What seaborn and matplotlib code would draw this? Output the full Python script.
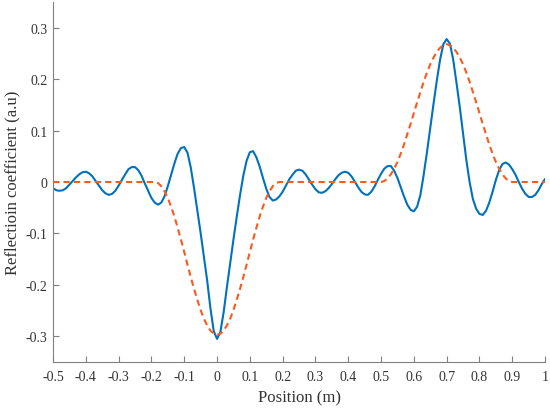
import numpy as np
import matplotlib
matplotlib.use("Agg")
import matplotlib.pyplot as plt
from matplotlib.ticker import FormatStrFormatter
import seaborn as sns

# sampled positions (m)
position = np.round(np.linspace(-0.5, 1.0, 151), 2)

# reconstructed reflection coefficient (solid blue)
reflection = [
    -0.012, -0.016, -0.017, -0.016, -0.012, -0.005, 0.002, 0.009, 0.015, 0.019,
    0.020, 0.017, 0.011, 0.002, -0.007, -0.016, -0.022, -0.025, -0.023, -0.017,
    -0.007, 0.004, 0.015, 0.025, 0.029, 0.029, 0.023, 0.012, -0.003, -0.017,
    -0.031, -0.040, -0.044, -0.040, -0.028, -0.008, 0.014, 0.036, 0.055, 0.066,
    0.068, 0.057, 0.028, -0.012, -0.055, -0.099, -0.145, -0.192, -0.246, -0.290,
    -0.305, -0.292, -0.254, -0.205, -0.158, -0.112, -0.068, -0.026, 0.012, 0.041,
    0.058, 0.060, 0.048, 0.030, 0.008, -0.013, -0.029, -0.036, -0.034, -0.028,
    -0.019, -0.007, 0.005, 0.014, 0.022, 0.024, 0.022, 0.015, 0.005, -0.005,
    -0.014, -0.020, -0.021, -0.018, -0.012, -0.004, 0.005, 0.013, 0.018, 0.020,
    0.018, 0.011, 0.001, -0.010, -0.019, -0.024, -0.025, -0.019, -0.009, 0.004,
    0.016, 0.026, 0.031, 0.031, 0.022, 0.008, -0.010, -0.028, -0.044, -0.054,
    -0.057, -0.048, -0.025, 0.014, 0.058, 0.105, 0.152, 0.197, 0.238, 0.268,
    0.278, 0.269, 0.238, 0.193, 0.146, 0.095, 0.043, 0.000, -0.033, -0.052,
    -0.062, -0.064, -0.056, -0.040, -0.019, 0.004, 0.023, 0.035, 0.038, 0.034,
    0.025, 0.014, 0.000, -0.013, -0.023, -0.029, -0.029, -0.025, -0.016, -0.004,
    0.006,
]

# true profile (dashed orange): flat, a dip at 0 and a bump at 0.7
dip_pos = np.round(np.linspace(-0.19, 0.19, 39), 2)
dip_val = [
    0.0, -0.002, -0.008, -0.018, -0.031, -0.048, -0.067, -0.089, -0.112, -0.136,
    -0.161, -0.185, -0.208, -0.229, -0.249, -0.266, -0.279, -0.289, -0.295, -0.297,
    -0.295, -0.289, -0.279, -0.266, -0.249, -0.229, -0.208, -0.185, -0.161, -0.136,
    -0.112, -0.089, -0.067, -0.048, -0.031, -0.018, -0.008, -0.002, 0.0,
]
bump_pos = np.round(np.linspace(0.50, 0.90, 41), 2)
bump_val = [
    0.0, 0.002, 0.007, 0.015, 0.026, 0.039, 0.055, 0.073, 0.093, 0.113,
    0.134, 0.155, 0.175, 0.195, 0.213, 0.229, 0.242, 0.253, 0.261, 0.266,
    0.268,
    0.266, 0.261, 0.253, 0.242, 0.229, 0.213, 0.195, 0.175, 0.155, 0.134,
    0.113, 0.093, 0.073, 0.055, 0.039, 0.026, 0.015, 0.007, 0.002, 0.0,
]
profile_pos = np.concatenate([[-0.5], dip_pos, bump_pos, [1.0]])
profile_val = np.concatenate([[0.0], dip_val, bump_val, [0.0]])

xticks = np.round(np.arange(-0.5, 1.01, 0.1), 1) + 0.0
yticks = np.round(np.arange(-0.3, 0.31, 0.1), 1) + 0.0

sns.set_theme(style="ticks")
plt.rcParams['font.family'] = ['Liberation Serif', 'DejaVu Serif']
plt.rcParams['axes.unicode_minus'] = False

fig = plt.figure(figsize=(5.5, 4.1), dpi=100)
ax = fig.add_axes([0.0964, 0.1146, 0.8946, 0.878])

sns.lineplot(x=position, y=reflection, ax=ax, color="#0072BD", linewidth=1.5, sort=False)
sns.lineplot(x=profile_pos, y=profile_val, ax=ax, color="#F95A1E", linewidth=1.5,
             linestyle=(0, (3, 2)), sort=False)

ax.set_xlim(-0.5, 1.0)
ax.set_ylim(-0.35, 0.35)
ax.set_xticks(xticks)
ax.set_yticks(yticks)
ax.xaxis.set_major_formatter(FormatStrFormatter('%g'))
ax.yaxis.set_major_formatter(FormatStrFormatter('%g'))

ax.tick_params(direction='in', length=4.5, width=0.8, color='#808080',
               labelsize=10, labelcolor='#333333')
ax.tick_params(axis='x', pad=6)
ax.tick_params(axis='y', pad=4)
for s in ['top', 'right']:
    ax.spines[s].set_visible(False)
for s in ['left', 'bottom']:
    ax.spines[s].set_color('#808080')
    ax.spines[s].set_linewidth(0.8)

ax.set_xlabel("Position (m)", fontsize=12, color='#333333', labelpad=4)
ax.set_ylabel("Reflectioin coefficient (a.u)", fontsize=12, color='#333333', labelpad=4)

plt.savefig("out.png", dpi=100)
plt.close()
